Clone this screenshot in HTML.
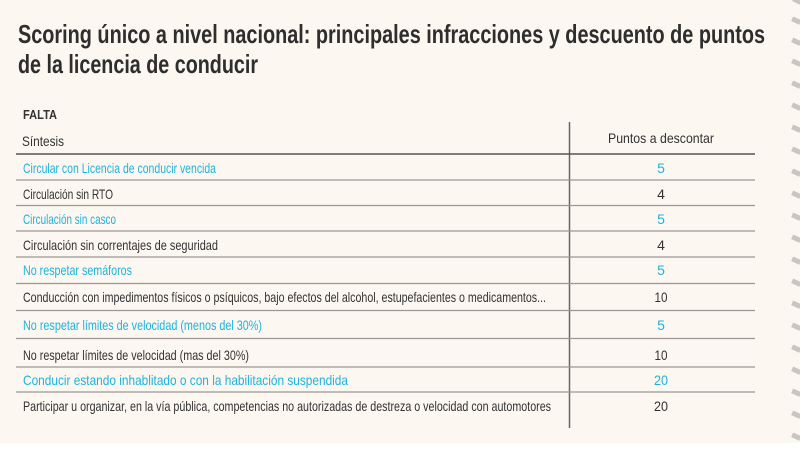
<!DOCTYPE html>
<html><head><meta charset="utf-8"><style>
html,body{margin:0;padding:0;background:#fff;}
svg{display:block;font-family:"Liberation Sans",sans-serif;}
</style></head><body>
<svg width="800" height="450" viewBox="0 0 800 450">
<rect x="0" y="0" width="800" height="443" fill="#fcf7f1"/>
<g fill="#c9c6c2">
<rect x="793" y="-2" width="9" height="5" transform="rotate(25 797 0)"/>
<rect x="792" y="18" width="9" height="5" transform="rotate(25 796 20)"/>
<rect x="792" y="39" width="9" height="5" transform="rotate(25 796 41)"/>
<rect x="792" y="60" width="9" height="5" transform="rotate(25 796 62)"/>
<rect x="792" y="82" width="9" height="5" transform="rotate(25 796 84)"/>
<rect x="792" y="104" width="9" height="5" transform="rotate(25 796 106)"/>
<rect x="792" y="126" width="9" height="5" transform="rotate(25 796 128)"/>
<rect x="792" y="148" width="9" height="5" transform="rotate(25 796 150)"/>
<rect x="792" y="170" width="9" height="5" transform="rotate(25 796 172)"/>
<rect x="792" y="192" width="9" height="5" transform="rotate(25 796 194)"/>
<rect x="792" y="214" width="9" height="5" transform="rotate(25 796 216)"/>
<rect x="792" y="236" width="9" height="5" transform="rotate(25 796 238)"/>
<rect x="792" y="258" width="9" height="5" transform="rotate(25 796 260)"/>
<rect x="792" y="280" width="9" height="5" transform="rotate(25 796 282)"/>
<rect x="792" y="302" width="9" height="5" transform="rotate(25 796 304)"/>
<rect x="792" y="324" width="9" height="5" transform="rotate(25 796 326)"/>
<rect x="792" y="346" width="9" height="5" transform="rotate(25 796 348)"/>
<rect x="792" y="368" width="9" height="5" transform="rotate(25 796 370)"/>
<rect x="792" y="390" width="9" height="5" transform="rotate(25 796 392)"/>
<rect x="792" y="412" width="9" height="5" transform="rotate(25 796 414)"/>
<rect x="792" y="434" width="9" height="5" transform="rotate(25 796 436)"/>
</g>
<g fill="#2e2e2e" font-weight="bold" font-size="26">
<text x="18" y="43" textLength="747" lengthAdjust="spacingAndGlyphs">Scoring único a nivel nacional: principales infracciones y descuento de puntos</text>
<text x="18" y="73" textLength="240" lengthAdjust="spacingAndGlyphs">de la licencia de conducir</text>
</g>
<text x="23" y="119" font-size="13" font-weight="bold" fill="#333" textLength="34" lengthAdjust="spacingAndGlyphs">FALTA</text>
<text x="22" y="146" font-size="14" fill="#333" textLength="42" lengthAdjust="spacingAndGlyphs">Síntesis</text>
<text x="661" y="143" font-size="14" fill="#333" text-anchor="middle" textLength="106" lengthAdjust="spacingAndGlyphs">Puntos a descontar</text>
<line x1="569.5" y1="122" x2="569.5" y2="428" stroke="#666" stroke-width="1.5"/>
<line x1="16" y1="154" x2="755" y2="154" stroke="#555" stroke-width="1.5"/>
<g stroke="#9a9794" stroke-width="1.2">
<line x1="16" y1="180" x2="755" y2="180"/>
<line x1="16" y1="205.5" x2="755" y2="205.5"/>
<line x1="16" y1="231" x2="755" y2="231"/>
<line x1="16" y1="257" x2="755" y2="257"/>
<line x1="16" y1="283.5" x2="755" y2="283.5"/>
<line x1="16" y1="310.5" x2="755" y2="310.5"/>
<line x1="16" y1="338.5" x2="755" y2="338.5"/>
<line x1="16" y1="367" x2="755" y2="367"/>
<line x1="16" y1="392" x2="755" y2="392"/>
</g>
<g font-size="14">
<text x="23" y="173" fill="#1fb3dc" textLength="193" lengthAdjust="spacingAndGlyphs">Circular con Licencia de conducir vencida</text>
<text x="23" y="199" fill="#333" textLength="90" lengthAdjust="spacingAndGlyphs">Circulación sin RTO</text>
<text x="23" y="224" fill="#1fb3dc" textLength="93" lengthAdjust="spacingAndGlyphs">Circulación sin casco</text>
<text x="23" y="250" fill="#333" textLength="195" lengthAdjust="spacingAndGlyphs">Circulación sin correntajes de seguridad</text>
<text x="23" y="275" fill="#1fb3dc" textLength="109" lengthAdjust="spacingAndGlyphs">No respetar semáforos</text>
<text x="23" y="302" fill="#333" textLength="523" lengthAdjust="spacingAndGlyphs">Conducción con impedimentos físicos o psíquicos, bajo efectos del alcohol, estupefacientes o medicamentos...</text>
<text x="23" y="330" fill="#1fb3dc" textLength="239" lengthAdjust="spacingAndGlyphs">No respetar límites de velocidad (menos del 30%)</text>
<text x="23" y="360" fill="#333" textLength="226" lengthAdjust="spacingAndGlyphs">No respetar límites de velocidad (mas del 30%)</text>
<text x="23" y="385" fill="#1fb3dc" textLength="325" lengthAdjust="spacingAndGlyphs">Conducir estando inhablitado o con la habilitación suspendida</text>
<text x="23" y="411" fill="#333" textLength="528" lengthAdjust="spacingAndGlyphs">Participar u organizar, en la vía pública, competencias no autorizadas de destreza o velocidad con automotores</text>
</g>
<g font-size="14" text-anchor="middle">
<text x="661" y="173" fill="#1fb3dc">5</text>
<text x="661" y="199" fill="#333">4</text>
<text x="661" y="224" fill="#1fb3dc">5</text>
<text x="661" y="250" fill="#333">4</text>
<text x="661" y="275" fill="#1fb3dc">5</text>
<text x="661" y="302" fill="#333" textLength="13" lengthAdjust="spacingAndGlyphs">10</text>
<text x="661" y="330" fill="#1fb3dc">5</text>
<text x="661" y="360" fill="#333" textLength="13" lengthAdjust="spacingAndGlyphs">10</text>
<text x="661" y="385" fill="#1fb3dc" textLength="14" lengthAdjust="spacingAndGlyphs">20</text>
<text x="661" y="411" fill="#333" textLength="14" lengthAdjust="spacingAndGlyphs">20</text>
</g>
</svg>
</body></html>
